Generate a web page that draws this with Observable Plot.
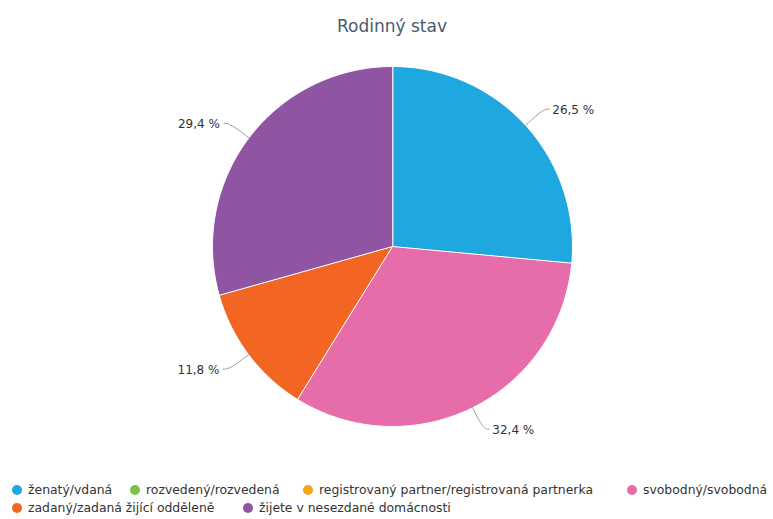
<!DOCTYPE html>
<html><head><meta charset="utf-8">
<script src="https://cdn.jsdelivr.net/npm/d3@7"></script>
<script src="https://cdn.jsdelivr.net/npm/@observablehq/plot@0.6"></script>
<style>
body{margin:0;background:#fff;font-family:"DejaVu Sans",sans-serif;}
#wrap{position:relative;width:773px;height:519px;overflow:hidden;}
#wrap svg{position:absolute;left:0;top:0;}
.leg{position:absolute;font-size:12.4px;color:#333;white-space:nowrap;display:flex;align-items:center;line-height:14px;}
.leg .m{width:10px;height:10px;border-radius:50%;display:inline-block;margin-right:6px;}
</style></head><body><div id="wrap"></div>
<script>
const title = "Rodinný stav";
const categories = ["ženatý/vdaná", "rozvedený/rozvedená", "registrovaný partner/registrovaná partnerka", "svobodný/svobodná", "zadaný/zadaná žijící odděleně", "žijete v nesezdané domácnosti"];
const values = [26.5, 0, 0, 32.4, 11.8, 29.4];
const colors = ["#1fa8e0", "#7cc242", "#f7a31c", "#e76daa", "#f26522", "#8f55a2"];
// legend layout (style): left offset and top of each item
const legendLeft = [12, 130, 303, 627, 12, 243];
const legendTop = [483, 483, 483, 483, 501, 501];

const R = 180;
const data = categories.map((name, i) => ({name, value: values[i]}));
const arcs = d3.pie().sort(null).value(d => d.value)(data).filter(a => a.value > 0);

const pts = [];
const conn = [];
const labels = [];
for (const a of arcs) {
  const name = a.data.name;
  pts.push({name, x: 0, y: 0});
  const n = Math.max(2, Math.ceil((a.endAngle - a.startAngle) * 180 / Math.PI));
  for (let i = 0; i <= n; i++) {
    const t = a.startAngle + (a.endAngle - a.startAngle) * i / n;
    pts.push({name, x: R * Math.sin(t), y: R * Math.cos(t)});
  }
  const m = (a.startAngle + a.endAngle) / 2;
  const side = Math.sin(m) >= 0 ? 1 : -1;
  const ex = (R + 24) * Math.sin(m), ey = (R + 24) * Math.cos(m);
  conn.push({name, x: R * Math.sin(m), y: R * Math.cos(m)});
  conn.push({name, x: ex, y: ey});
  conn.push({name, x: ex + side * 6, y: ey});
  labels.push({name, x: ex + side * 6, y: ey, side, text: String(a.data.value).replace(".", ",") + " %"});
}

const chart = Plot.plot({
  width: 773,
  height: 470,
  margin: 0,
  style: {fontFamily: "DejaVu Sans, sans-serif", background: "transparent"},
  x: {domain: [-R, R], range: [212, 572], axis: null},
  y: {domain: [-R, R], range: [426, 66], axis: null},
  color: {domain: categories, range: colors},
  marks: [
    Plot.line(pts, {x: "x", y: "y", z: "name", fill: "name", stroke: "white", strokeWidth: 1, curve: "linear-closed"}),
    Plot.line(conn, {x: "x", y: "y", z: "name", stroke: "#a0a0a0", strokeWidth: 1, curve: "basis"}),
    Plot.text(labels.filter(d => d.side > 0), {x: "x", y: "y", text: "text", textAnchor: "start", dx: 3, dy: 1, fontSize: 12, fill: "#333"}),
    Plot.text(labels.filter(d => d.side < 0), {x: "x", y: "y", text: "text", textAnchor: "end", dx: -4, dy: 1, fontSize: 12, fill: "#333"}),
    Plot.text([title], {frameAnchor: "top", text: d => d, dx: 5, dy: 19, fontSize: 17, fill: "#4a5b70"})
  ]
});
const wrap = document.getElementById("wrap");
wrap.appendChild(chart);
categories.forEach((c, i) => {
  const d = document.createElement("div");
  d.className = "leg";
  d.style.left = legendLeft[i] + "px";
  d.style.top = legendTop[i] + "px";
  const m = document.createElement("span");
  m.className = "m";
  m.style.background = colors[i];
  d.appendChild(m);
  d.appendChild(document.createTextNode(c));
  wrap.appendChild(d);
});
</script></body></html>
